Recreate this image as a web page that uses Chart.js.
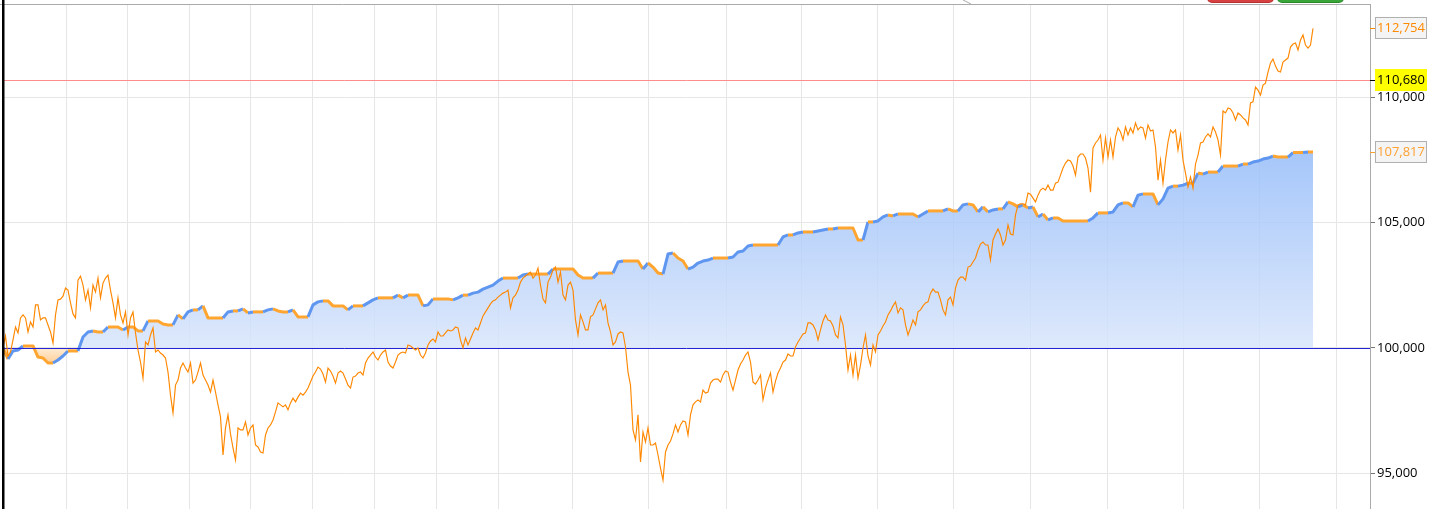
<!DOCTYPE html>
<html><head><meta charset="utf-8">
<script src="https://cdn.jsdelivr.net/npm/chart.js@4.4.1/dist/chart.umd.min.js"></script>
<style>
html,body{margin:0;padding:0;background:#fff;overflow:hidden}
#wrap{position:relative;width:1431px;height:509px;overflow:hidden}
canvas{display:block}
.btn{position:absolute;top:-12px;height:14px;border-radius:4px}
</style></head><body>
<div id="wrap">
<canvas id="c" width="1431" height="509"></canvas>
<div class="btn" style="left:1208px;width:65px;background:#d84141;box-shadow:0 0 0 1px #b83030"></div>
<div class="btn" style="left:1278px;width:65px;background:#3aa63a;box-shadow:0 0 0 1px #2a8a2a"></div>
</div>
<script>
// Underlying price (thin orange line), two samples per equity step
const price = [
100000, 100480, 99680, 99840, 100320, 100840, 100600, 101200, 101320, 101200,
100640, 101040, 100840, 101720, 101720, 101120, 101200, 101200, 100920, 100640,
100200, 101320, 101920, 101950, 102070, 102390, 102310, 101800, 101360, 101200,
102710, 102870, 102510, 101920, 102310, 101600, 102510, 102230, 102790, 102000,
102590, 102790, 102910, 102310, 101800, 101200, 102000, 101320, 101000, 101440,
100520, 101200, 101440, 100600, 99920, 99440, 98800, 100240, 100120, 100520,
100800, 99840, 99920, 99800, 99720, 99600, 99040, 98120, 97410, 98520,
98720, 99200, 99400, 99200, 99040, 99400, 98600, 98720, 99040, 99400,
98920, 98720, 98520, 98240, 98720, 98240, 97730, 97250, 95730, 96810,
97330, 96570, 96010, 95530, 96810, 96730, 96730, 97050, 96530, 96810,
96930, 96130, 96050, 95850, 95810, 96530, 96810, 96930, 97130, 97450,
97810, 97730, 97650, 97730, 97530, 97810, 98000, 97850, 98040, 98200,
98120, 98240, 98400, 98640, 98880, 99040, 99240, 99160, 98960, 98640,
99200, 99080, 98880, 98600, 99000, 99080, 99000, 98760, 98520, 98400,
98840, 98880, 99000, 99040, 98920, 99400, 99600, 99720, 99840, 99640,
99520, 99720, 99840, 99920, 99440, 99280, 99200, 99440, 99720, 99800,
99840, 99800, 100120, 100080, 100000, 99920, 100000, 99720, 99600, 99800,
100120, 100280, 100360, 100240, 100640, 100480, 100480, 100600, 100720, 100680,
100720, 100840, 100800, 100320, 100000, 100400, 100120, 100360, 100600, 100800,
100720, 101000, 101280, 101440, 101600, 101760, 101880, 101920, 102030, 102110,
102190, 102230, 102310, 101600, 102000, 102110, 102310, 102630, 102790, 102870,
102950, 103030, 102790, 102910, 103190, 102510, 101950, 101800, 102630, 102830,
103110, 103230, 102630, 103030, 102110, 101920, 102510, 102630, 102310, 101120,
100520, 101320, 101040, 100720, 100720, 101240, 101320, 101560, 101800, 101920,
101520, 101720, 101000, 100640, 100120, 100240, 100560, 100640, 100600, 100040,
99040, 98520, 96730, 96330, 97330, 95450, 96650, 96250, 96810, 96130,
96130, 96210, 95730, 95210, 94730, 95850, 96130, 96290, 96570, 96930,
96650, 96930, 97090, 97050, 96530, 97330, 97730, 97850, 97930, 97850,
98320, 98200, 98240, 98600, 98720, 98760, 98760, 98640, 98920, 99080,
99040, 98640, 98320, 98720, 99120, 99360, 99520, 99720, 99840, 99440,
98640, 98560, 98720, 98920, 97930, 98400, 98720, 99000, 98240, 98680,
99000, 99200, 99440, 99520, 99760, 99680, 99680, 100040, 100240, 100400,
100560, 100600, 101000, 101000, 100920, 100720, 100320, 100720, 101080, 101320,
101120, 101080, 100880, 100520, 100400, 101240, 100920, 100120, 99120, 99720,
98920, 99720, 98800, 99320, 100000, 100520, 99680, 99320, 100120, 99840,
100520, 100680, 100880, 101040, 101320, 101480, 101680, 101840, 101400, 101600,
101520, 100920, 100520, 100800, 101120, 100920, 101440, 101520, 101680, 101800,
101840, 102190, 102350, 102230, 102230, 101920, 101520, 101320, 101920, 102030,
101720, 102390, 102710, 102830, 102830, 102710, 103230, 103270, 103430, 103590,
103910, 104150, 104230, 104110, 104110, 103510, 104310, 104550, 104750, 104510,
104110, 104310, 104910, 104550, 104510, 105310, 105710, 105750, 105750, 105710,
106180, 106140, 105980, 105830, 106100, 106300, 106380, 106300, 106500, 106300,
106300, 106580, 106620, 106900, 107180, 107380, 107500, 107460, 107260, 106900,
107620, 107740, 107740, 107580, 107180, 106220, 107980, 108180, 108300, 108500,
107500, 108380, 107620, 108300, 107620, 108420, 108780, 108620, 108300, 108820,
108500, 108780, 108580, 108980, 108700, 108820, 108780, 108380, 108900, 108660,
108700, 108020, 106700, 107500, 106580, 107500, 108220, 108700, 108580, 108700,
107900, 108500, 107500, 106980, 106420, 106820, 106380, 107340, 107700, 108180,
108220, 108420, 108540, 108420, 108820, 108620, 108300, 107700, 109460, 109380,
109580, 109540, 109380, 109100, 109380, 109300, 109180, 109100, 108900, 109780,
109820, 110410, 110290, 110090, 110490, 110570, 111010, 111370, 111530, 111250,
111050, 111010, 111410, 111490, 111570, 112010, 112130, 112170, 111890, 112290,
112490, 112090, 111970, 112090, 112754
];
const PRICE_SAMPLES_PER_STEP = 2;
// Account equity (stepped curve with area fill), one value per step
const equity = [
100000, 99560, 99880, 99920, 100080, 100080, 100080, 99640, 99600, 99400,
99400, 99520, 99680, 99880, 99880, 99880, 100440, 100640, 100680, 100640,
100640, 100840, 100840, 100840, 100720, 100840, 100840, 100680, 100680, 101080,
101080, 101080, 100960, 100920, 100920, 101320, 101160, 101440, 101520, 101520,
101680, 101200, 101200, 101200, 101200, 101440, 101480, 101480, 101560, 101400,
101440, 101440, 101440, 101520, 101560, 101480, 101440, 101440, 101520, 101240,
101240, 101240, 101720, 101840, 101880, 101880, 101680, 101680, 101680, 101520,
101680, 101680, 101680, 101800, 101920, 102000, 102000, 102000, 102000, 102110,
102000, 102110, 102110, 102110, 101680, 101720, 101960, 101960, 101960, 101960,
101920, 102000, 102110, 102110, 102190, 102230, 102350, 102430, 102510, 102670,
102790, 102790, 102790, 102790, 102910, 102950, 102950, 102950, 102950, 102950,
103150, 103150, 103150, 103150, 103150, 102910, 102790, 102790, 102790, 102990,
102990, 102990, 102990, 103430, 103470, 103470, 103470, 103470, 103150, 103390,
103230, 102990, 102950, 103750, 103790, 103590, 103470, 103150, 103230, 103390,
103470, 103510, 103590, 103590, 103590, 103590, 103630, 103830, 103870, 104070,
104110, 104110, 104110, 104110, 104110, 104110, 104430, 104510, 104510, 104590,
104630, 104630, 104630, 104670, 104710, 104750, 104750, 104790, 104790, 104790,
104790, 104310, 104310, 105030, 105030, 105070, 105230, 105310, 105270, 105350,
105350, 105350, 105350, 105230, 105350, 105470, 105470, 105470, 105470, 105550,
105470, 105470, 105710, 105750, 105710, 105430, 105630, 105430, 105510, 105550,
105550, 105830, 105750, 105630, 105710, 105590, 105630, 105230, 105350, 105110,
105190, 105190, 105070, 105070, 105070, 105070, 105070, 105070, 105190, 105390,
105390, 105390, 105430, 105710, 105790, 105790, 105630, 106100, 106150, 106150,
106150, 105710, 105950, 106380, 106460, 106460, 106500, 106580, 106580, 106980,
106940, 107020, 107020, 107020, 107260, 107260, 107260, 107260, 107340, 107340,
107420, 107460, 107540, 107580, 107660, 107620, 107620, 107620, 107800, 107800,
107800, 107820, 107817
];
// Vertical grid positions (period boundaries, in step index units)
const gridDays = [12.7, 24.9, 37.3, 49.5, 61.9, 74.3, 86.7, 99.1, 113.9, 129.0, 144.6, 159.6, 174.8, 190.0, 205.4, 220.8, 236.0, 251.2, 266.6];
const yTickValues = [95000, 100000, 105000, 110000];
const baseLevel = 100000;
const alertLevel = 110680;
const lastPrice = 112754;
const lastEquity = 107817;
const yMin = 93575, yMax = 113727;
const xMax = 273.4;

const canvas = document.getElementById('c');
const g = canvas.getContext('2d');
const AREA = {left: 3, top: 4, right: 1370, bottom: 509};
function yPix(v) { return AREA.top + (yMax - v) / (yMax - yMin) * (AREA.bottom - AREA.top); }
const gBlue = g.createLinearGradient(0, yPix(108000), 0, yPix(baseLevel));
gBlue.addColorStop(0, 'rgba(149,188,249,0.85)');
gBlue.addColorStop(1, 'rgba(216,229,251,0.85)');
const gOrange = g.createLinearGradient(0, yPix(baseLevel), 0, yPix(99350));
gOrange.addColorStop(0, 'rgba(255,233,204,0.85)');
gOrange.addColorStop(1, 'rgba(255,196,131,0.85)');

const ORANGE_STEP = '#ffa530', BLUE_STEP = '#5f96ef';
const FONT = "13px 'Open Sans', sans-serif";

function hline(ctx, x0, x1, py, color) {
  const y = Math.round(py) + 0.5;
  ctx.strokeStyle = color; ctx.lineWidth = 1;
  ctx.beginPath(); ctx.moveTo(x0, y); ctx.lineTo(x1, y); ctx.stroke();
}
function tag(ctx, right, py, text, bg, fg, border, tickCol) {
  const x = right + 5, w = 52, h = 22, ry = Math.round(py);
  hline(ctx, right, right + 5, py, tickCol);
  ctx.fillStyle = bg; ctx.fillRect(x, ry - 11, w, h);
  if (border) { ctx.strokeStyle = border; ctx.lineWidth = 1; ctx.strokeRect(x + 0.5, ry - 10.5, w - 1, h - 1); }
  ctx.fillStyle = fg; ctx.font = FONT; ctx.textAlign = 'center'; ctx.textBaseline = 'middle';
  ctx.fillText(text, x + w / 2, ry + 0.5);
}
const fmt = v => v.toLocaleString('en-US');

const overlay = {
  id: 'overlay',
  afterDatasetDraw(chart, args) {
    if (args.index !== 1) return;
    const {ctx, chartArea: a, scales: {y}} = chart;
    ctx.save();
    hline(ctx, a.left, a.right, y.getPixelForValue(baseLevel), '#2424d6');
    hline(ctx, a.left, a.right, y.getPixelForValue(alertLevel), '#ff8c8c');
    ctx.restore();
  },
  afterDraw(chart) {
    const {ctx, chartArea: a, scales: {y}} = chart;
    ctx.save();
    hline(ctx, 0, a.right, a.top, '#aaaaaa');
    ctx.fillStyle = '#000'; ctx.fillRect(2, 0, 2.5, chart.height);
    ctx.strokeStyle = '#aaaaaa'; ctx.lineWidth = 1;
    ctx.beginPath(); ctx.moveTo(963, 0); ctx.lineTo(971, 4); ctx.stroke();
    tag(ctx, a.right, y.getPixelForValue(lastPrice), fmt(lastPrice), '#f4f4f4', '#ff8a00', '#b0b0b0', '#ff8a00');
    tag(ctx, a.right, y.getPixelForValue(alertLevel), fmt(alertLevel), '#ffff00', '#000000', null, '#000000');
    tag(ctx, a.right, y.getPixelForValue(lastEquity), fmt(lastEquity), '#f4f4f4', '#ffa030', '#b0b0b0', '#ffa030');
    ctx.restore();
  }
};

new Chart(canvas, {
  type: 'line',
  data: {
    datasets: [
      {label: 'Price', data: price.map((v, k) => ({x: k / PRICE_SAMPLES_PER_STEP, y: v})), borderColor: '#ff8800', borderWidth: 1.15,
       pointRadius: 0, fill: false, tension: 0, order: 0},
      {label: 'Equity', data: equity.map((v, i) => ({x: i, y: v})), borderColor: ORANGE_STEP, borderWidth: 3,
       pointRadius: 0, tension: 0, order: 1, borderJoinStyle: 'round',
       fill: {target: {value: baseLevel}, above: gBlue, below: gOrange},
       segment: {borderColor: c => c.p1.parsed.y > c.p0.parsed.y ? BLUE_STEP : ORANGE_STEP}}
    ]
  },
  options: {
    responsive: false, animation: false, devicePixelRatio: 1, events: [],
    layout: {padding: {left: AREA.left, top: AREA.top, right: 0, bottom: 0}},
    plugins: {legend: {display: false}, tooltip: {enabled: false}},
    scales: {
      x: {type: 'linear', min: 0, max: xMax,
          afterBuildTicks: s => { s.ticks = gridDays.map(v => ({value: v})); },
          ticks: {display: false}, grid: {color: '#e6e6e6', drawTicks: false}, border: {display: false},
          afterFit: s => { s.height = 0; s.paddingLeft = 0; s.paddingRight = 0; }},
      y: {position: 'right', min: yMin, max: yMax,
          afterBuildTicks: s => { s.ticks = yTickValues.map(v => ({value: v})); },
          ticks: {padding: 2, color: '#000', font: {family: "'Open Sans', sans-serif", size: 13}, callback: v => fmt(v)},
          grid: {color: '#e6e6e6', tickColor: '#777', tickLength: 5},
          border: {color: '#aaaaaa', width: 1},
          afterFit: s => { s.width = 61; s.paddingTop = 0; s.paddingBottom = 0; }}
    }
  },
  plugins: [overlay]
});
</script>
</body></html>
